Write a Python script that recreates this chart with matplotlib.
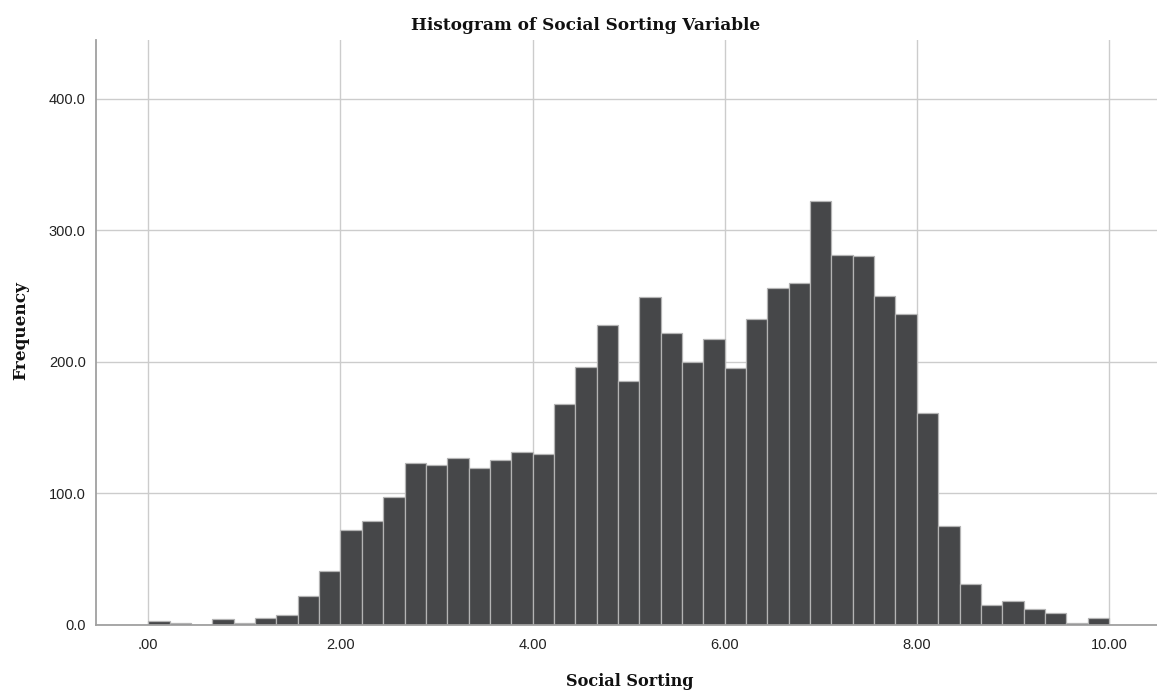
import numpy as np
import matplotlib
matplotlib.use("Agg")
import matplotlib.pyplot as plt

# ---- data ----
bin_start = 0.0
bin_end = 10.0
n_bins = 45
counts = [3, 1, 0, 4, 1, 5, 7, 22, 41,
          72, 79, 97, 123, 121, 127, 119, 125, 131,
          130, 168, 196, 228, 185, 249, 222, 200, 217,
          195, 232, 256, 260, 322, 281, 280, 250, 236,
          161, 75, 31, 15, 18, 12, 9, 1, 5]
x_ticks = [0, 2, 4, 6, 8, 10]
x_tick_labels = [".00", "2.00", "4.00", "6.00", "8.00", "10.00"]
y_ticks = [0, 100, 200, 300, 400]
y_tick_labels = ["0.0", "100.0", "200.0", "300.0", "400.0"]
title = "Histogram of Social Sorting Variable"
x_label = "Social Sorting"
y_label = "Frequency"

W, H = 1157, 693
fig = plt.figure(figsize=(W / 100, H / 100), dpi=100)
ax = fig.add_axes([95.5 / W, 1 - 624.5 / H, (W - 95.5) / W, (624.5 - 40) / H])

edges = np.linspace(bin_start, bin_end, n_bins + 1)
ax.bar(edges[:-1], counts, width=np.diff(edges), align="edge",
       color="#464749", edgecolor="#b4b4b4", linewidth=0.9, zorder=2)

ax.set_xlim(-0.55, 10.5)
ax.set_ylim(0, 444.5)
ax.set_xticks(x_ticks)
ax.set_xticklabels(x_tick_labels)
ax.set_yticks(y_ticks)
ax.set_yticklabels(y_tick_labels)
ax.grid(True, color="#cccccc", linewidth=1.0, zorder=0)
ax.set_axisbelow(True)

for s in ("top", "right"):
    ax.spines[s].set_visible(False)
for s in ("left", "bottom"):
    ax.spines[s].set_color("#a0a0a0")
    ax.spines[s].set_linewidth(1.3)

ax.tick_params(axis="both", length=0, labelsize=10.5, labelcolor="#222222")
ax.tick_params(axis="x", pad=10)
ax.tick_params(axis="y", pad=7)
for lab in ax.get_xticklabels() + ax.get_yticklabels():
    lab.set_family("Liberation Sans")

serif = dict(family="DejaVu Serif", weight="bold", color="#111111")
fig.text(586 / W, 1 - 29.5 / H, title, ha="center", va="baseline", fontsize=12.2, **serif)
fig.text(630 / W, 1 - 686 / H, x_label, ha="center", va="baseline", fontsize=11.6, **serif)
fig.text(21 / W, 1 - 331 / H, y_label, ha="center", va="center", rotation=90,
         fontsize=12.2, **serif)

fig.savefig("out.png", dpi=100)
